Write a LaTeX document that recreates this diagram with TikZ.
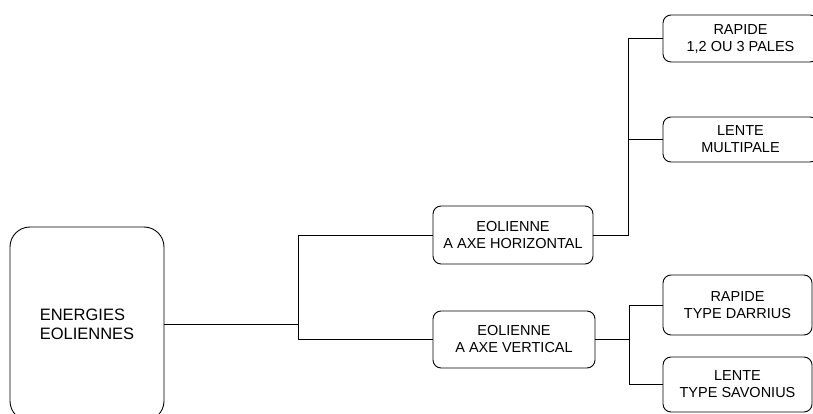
\documentclass[tikz,border=0pt]{standalone}
\usepackage{fontspec}
\setmainfont{Liberation Sans}
\begin{document}
\begin{tikzpicture}[x=1pt,y=-1pt,
  box/.style={draw, line width=0.9pt, rounded corners=8pt, inner sep=0pt, align=center,
    font=\fontsize{14.5}{17}\selectfont},
  bigbox/.style={draw, line width=0.9pt, rounded corners=20pt, inner sep=0pt, align=left,
    font=\fontsize{16.5}{19}\selectfont},
  link/.style={line width=0.9pt}]
\useasboundingbox (0,0) rectangle (813,414);
\node[bigbox, minimum width=154pt, minimum height=194pt] (big) at (87,324) {ENERGIES\\EOLIENNES};
\node[box, minimum width=160pt, minimum height=58pt] (h) at (513,235) {EOLIENNE\\A AXE HORIZONTAL};
\node[box, minimum width=162pt, minimum height=57pt] (v) at (514,339.5) {EOLIENNE\\A AXE VERTICAL};
\node[box, minimum width=155pt, minimum height=47pt] (r1) at (740.5,38.5) {RAPIDE\\1,2 OU 3 PALES};
\node[box, minimum width=155pt, minimum height=45pt] (l1) at (740.5,139.5) {LENTE\\MULTIPALE};
\node[box, minimum width=149pt, minimum height=60pt] (r2) at (737.5,305) {RAPIDE\\TYPE DARRIUS};
\node[box, minimum width=149pt, minimum height=55pt] (l2) at (737.5,384.5) {LENTE\\TYPE SAVONIUS};
\coordinate (j1) at (298,0);
\coordinate (j2) at (628,0);
\coordinate (j3) at (629,0);
\draw[link] (big.east) -- (j1 |- big.east);
\draw[link] (h.west) -| (j1 |- v.west) -- (v.west);
\draw[link] (h.east) -| (j2 |- r1.west) -- (r1.west);
\draw[link] (j2 |- l1.west) -- (l1.west);
\draw[link] (v.east) -- (j3 |- v.east);
\draw[link] (r2.west) -- (j3 |- r2.west) |- (l2.west);
\end{tikzpicture}
\end{document}
